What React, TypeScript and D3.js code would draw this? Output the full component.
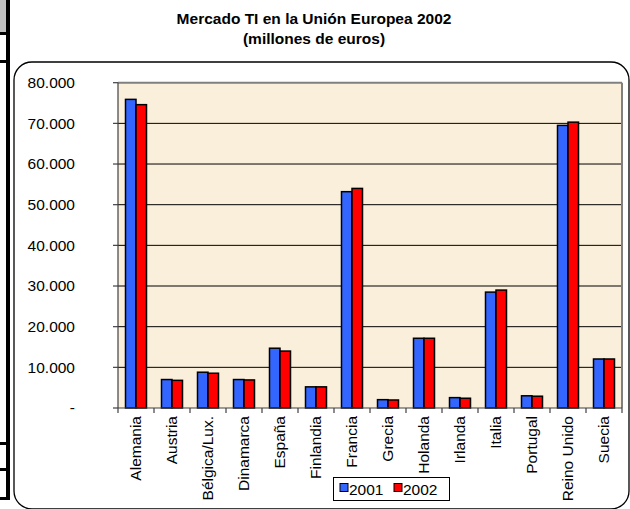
import React from "react";
import * as d3 from "d3";

const categories = ["Alemania","Austria","Bélgica/Lux.","Dinamarca","España","Finlandia","Francia","Grecia","Holanda","Irlanda","Italia","Portugal","Reino Unido","Suecia"];
const values2001 = [75900, 7000, 8800, 7000, 14700, 5200, 53200, 2050, 17150, 2550, 28500, 3000, 69500, 12050];
const values2002 = [74600, 6800, 8550, 6900, 14000, 5200, 54000, 1970, 17150, 2400, 29000, 2900, 70300, 12050];
const seriesNames = ["2001", "2002"];
const yTicks = [0, 10000, 20000, 30000, 40000, 50000, 60000, 70000, 80000];

const W = 630, H = 509;
const L = 118, R = 622, T = 82.7, B = 408;
const FONT = "Arial, 'Liberation Sans', Helvetica, sans-serif";

export default function App() {
  const x0 = d3.scaleBand<string>().domain(categories).range([L, R]).padding(0);
  const x1 = d3.scaleBand<string>().domain(seriesNames).range([0, x0.bandwidth()]).paddingInner(0).paddingOuter(0.714);
  const y = d3.scaleLinear().domain([0, 80000]).range([B, T]);
  const colors = ["#3366FF", "#FF0000"];
  const data = [values2001, values2002];
  const fmt = (v: number) => (v === 0 ? "-" : d3.format(",")(v).replace(/,/g, "."));
  const boundaries = [...categories.map((c) => x0(c)!), R];

  return (
    <svg width={W} height={H} style={{ position: "absolute", left: 0, top: 0, background: "#fff" }} fontFamily={FONT}>
      {/* left side decorations */}
      <rect x={0} y={0} width={7} height={32} fill="#c0c0c0" />
      <rect x={0} y={32} width={10} height={3} fill="#000" />
      <rect x={0} y={60} width={10} height={3} fill="#000" />
      <rect x={6} y={0} width={4} height={500} fill="#000" />
      <rect x={0} y={442} width={10} height={3} fill="#000" />
      <rect x={0} y={468} width={10} height={3} fill="#000" />
      <rect x={0} y={497} width={10} height={3} fill="#000" />

      {/* chart area */}
      <rect x={14} y={62} width={615} height={447} rx={18} ry={18} fill="#fff" stroke="#000" strokeWidth={1.3} />

      {/* title */}
      <text x={314} y={24} textAnchor="middle" fontWeight="bold" fontSize={15.5}>Mercado TI en la Unión Europea 2002</text>
      <text x={314} y={43.5} textAnchor="middle" fontWeight="bold" fontSize={15.5}>(millones de euros)</text>

      {/* plot area */}
      <rect x={L} y={T} width={R - L} height={B - T} fill="#FAEFDA" />
      {yTicks.filter((t) => t > 0 && t < 80000).map((t) => (
        <line key={t} x1={L} x2={R} y1={y(t)} y2={y(t)} stroke="#000" strokeWidth={1} />
      ))}
      <line x1={L} x2={R} y1={T} y2={T} stroke="#808080" strokeWidth={2} />
      <line x1={R} x2={R} y1={T} y2={B} stroke="#808080" strokeWidth={2} />

      {/* bars */}
      {categories.map((c, i) => (
        <g key={c}>
          {seriesNames.map((s, j) => (
            <rect key={s} x={x0(c)! + x1(s)!} y={y(data[j][i])} width={x1.bandwidth()} height={B - y(data[j][i])}
              fill={colors[j]} stroke="#000" strokeWidth={1.5} />
          ))}
        </g>
      ))}

      {/* axes */}
      <line x1={L} x2={L} y1={T} y2={B} stroke="#404040" strokeWidth={1.2} />
      <line x1={L} x2={R} y1={B} y2={B} stroke="#404040" strokeWidth={1.2} />
      {yTicks.map((t) => (
        <g key={t}>
          <line x1={L - 5} x2={L} y1={y(t)} y2={y(t)} stroke="#404040" strokeWidth={1.2} />
          <text x={75} y={y(t)} dy="0.35em" textAnchor="end" fontSize={15.5}>{fmt(t)}</text>
        </g>
      ))}
      {boundaries.map((bx, i) => (
        <line key={i} x1={bx} x2={bx} y1={B} y2={B + 5} stroke="#404040" strokeWidth={1.2} />
      ))}
      {categories.map((c) => {
        const cx = x0(c)! + x0.bandwidth() / 2;
        return (
          <text key={c} transform={`translate(${cx},416) rotate(-90)`} dy="0.35em" textAnchor="end" fontSize={15.5}>{c}</text>
        );
      })}

      {/* legend */}
      <rect x={333.5} y={477.5} width={116} height={23} fill="#fff" stroke="#000" strokeWidth={1} />
      {seriesNames.map((s, j) => (
        <g key={s}>
          <rect x={340 + j * 54} y={483.5} width={8} height={8} fill={colors[j]} stroke="#000" strokeWidth={1} />
          <text x={349 + j * 54} y={494.5} fontSize={15.5}>{s}</text>
        </g>
      ))}
    </svg>
  );
}
